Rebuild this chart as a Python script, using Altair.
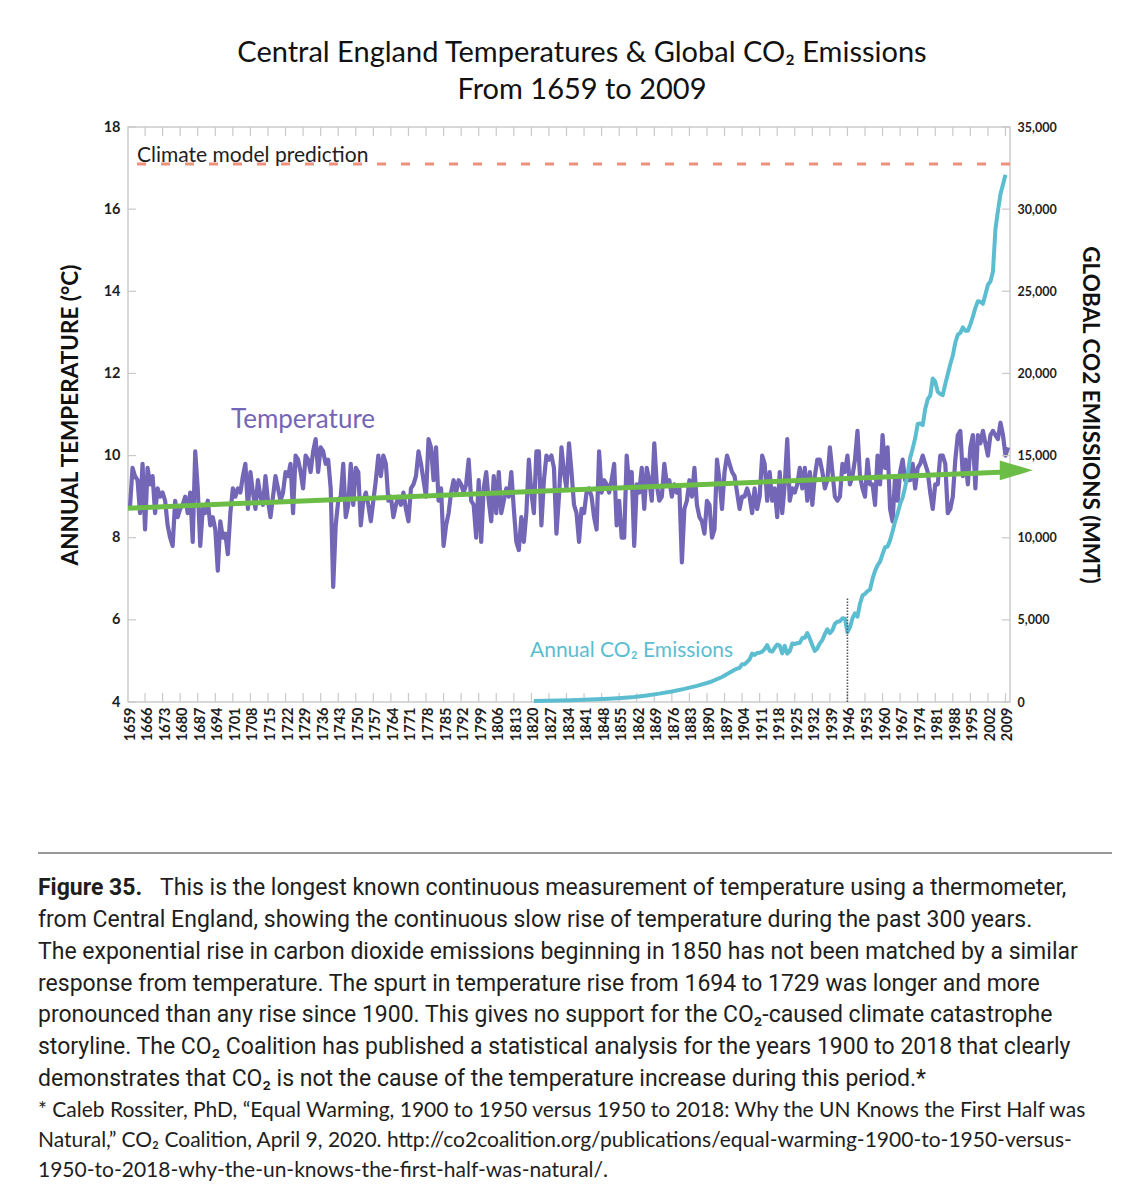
import altair as alt
import pandas as pd

# ---------------- data ----------------
temp_years = list(range(1659, 2010))
temp_values = [
    8.75, 9.7, 9.5, 9.4, 8.6, 9.8, 8.2, 9.7, 9.3, 9.5,
    8.6, 9.2, 9.0, 9.1, 8.9, 8.3, 8.0, 7.8, 8.9, 8.5,
    8.7, 8.8, 9.0, 8.6, 9.1, 7.9, 10.1, 9.2, 7.8, 8.7,
    8.6, 8.9, 8.3, 8.5, 8.2, 7.2, 8.4, 8.0, 8.1, 7.6,
    8.6, 9.2, 9.0, 9.2, 9.1, 9.5, 9.8, 8.7, 9.6, 9.1,
    8.7, 9.4, 9.0, 8.8, 9.5, 8.9, 8.5, 9.0, 9.5, 9.2,
    8.9, 9.1, 9.6, 9.5, 9.8, 8.6, 10.0, 9.9, 9.6, 9.2,
    10.0, 9.9, 9.6, 10.1, 10.4, 9.6, 10.2, 10.1, 9.8, 9.9,
    9.2, 6.8, 8.3, 8.9, 9.0, 9.8, 8.5, 8.8, 9.8, 8.8,
    9.7, 9.6, 8.3, 8.9, 9.1, 8.8, 8.4, 8.9, 9.4, 10.0,
    9.5, 10.0, 9.8, 8.9, 9.0, 8.5, 8.8, 9.0, 8.8, 9.1,
    8.7, 8.4, 9.2, 9.3, 9.5, 10.1, 9.8, 9.4, 9.0, 10.4,
    10.2, 9.4, 10.2, 8.9, 9.2, 7.8, 8.3, 8.6, 9.1, 9.4,
    9.1, 9.4, 9.3, 9.1, 9.3, 9.9, 8.9, 8.8, 8.0, 9.4,
    7.9, 9.2, 9.6, 8.9, 8.4, 9.5, 8.6, 9.6, 8.6, 8.9,
    9.2, 9.0, 9.6, 8.7, 7.9, 7.7, 8.5, 7.9, 8.6, 9.9,
    9.1, 8.6, 10.1, 10.1, 8.3, 9.4, 10.0, 9.9, 10.0, 9.7,
    8.1, 9.0, 10.2, 9.6, 9.2, 10.3, 9.6, 8.8, 8.6, 7.9,
    8.7, 8.6, 9.1, 9.2, 9.0, 8.5, 8.2, 10.1, 9.1, 9.4,
    9.3, 9.1, 9.4, 9.8, 8.3, 8.9, 8.0, 8.0, 10.0, 9.3,
    9.6, 7.8, 9.3, 9.1, 9.7, 8.7, 9.7, 9.4, 8.9, 10.3,
    9.3, 8.9, 9.0, 9.8, 9.3, 9.4, 9.0, 9.3, 9.1, 9.2,
    7.4, 8.7, 8.9, 9.4, 9.0, 9.7, 8.8, 8.5, 8.4, 8.1,
    8.9, 8.8, 8.0, 8.2, 9.9, 9.4, 8.7, 9.6, 10.0, 9.8,
    9.6, 9.5, 9.1, 8.7, 9.0, 9.0, 9.2, 9.0, 8.6, 9.2,
    8.7, 9.0, 10.0, 9.8, 8.9, 9.6, 8.9, 9.2, 8.5, 9.6,
    8.6, 9.3, 10.4, 8.9, 9.2, 9.1, 9.3, 9.7, 9.2, 9.7,
    8.9, 9.6, 8.8, 9.5, 9.9, 9.9, 9.6, 9.2, 9.4, 10.2,
    9.6, 9.0, 8.9, 9.0, 9.8, 9.6, 10.0, 9.3, 9.5, 9.9,
    10.6, 9.5, 9.2, 9.0, 9.9, 9.3, 9.3, 8.8, 10.0, 9.3,
    10.5, 9.7, 10.2, 8.7, 8.4, 9.5, 8.9, 9.6, 9.9, 9.4,
    9.4, 9.4, 9.8, 9.2, 9.7, 9.8, 10.0, 9.8, 9.6, 9.1,
    8.7, 9.3, 9.3, 10.0, 10.0, 9.8, 8.6, 8.7, 9.0, 9.9,
    10.5, 10.6, 9.5, 9.9, 9.3, 10.2, 10.5, 9.2, 10.5, 10.3,
    10.6, 10.3, 10.0, 10.5, 10.6, 10.5, 10.4, 10.8, 10.5, 10.0,
    10.2,
]

co2_years = [1820, 1825, 1830, 1835, 1840, 1845, 1850, 1855, 1860, 1865,
             1870, 1875, 1880, 1885, 1890, 1895] + list(range(1900, 2009))
co2_values = [
    60, 70, 90, 110, 130, 160, 200, 250, 300, 400,
    510, 640, 800, 980, 1200, 1520,
    1960, 2030, 2080, 2300, 2300, 2440, 2600, 2950, 2860, 2980,
    3000, 3070, 3220, 3460, 3120, 3070, 3300, 3500, 3430, 2960,
    3420, 2940, 3100, 3560, 3530, 3580, 3600, 3890, 3910, 4200,
    3860, 3450, 3110, 3270, 3570, 3770, 4140, 4430, 4190, 4370,
    4760, 4890, 4920, 5100, 5070, 4250, 4540, 5100, 5390, 5200,
    5980, 6480, 6580, 6750, 6840, 7490, 7980, 8320, 8540, 9000,
    9420, 9460, 9850, 10390, 10980, 11480, 12060, 12440, 13080, 13860,
    14860, 15430, 16050, 16920, 16950, 16850, 17840, 18430, 18650, 19690,
    19490, 18890, 18750, 18680, 19360, 19950, 20560, 21090, 21870, 22360,
    22470, 22800, 22600, 22600, 22980, 23460, 23990, 24390, 24360, 24240,
    24810, 25400, 25600, 26200, 28800, 29900, 30900, 31500, 32100,
]

trend_years = [1658.2, 2008.0]
trend_values = [8.72, 9.60]
arrow_year = [2012.3]
arrow_value = [9.64]

prediction_value = [17.1]
marker_year = [1945]
marker_top = [6330]

x_label_years = list(range(1659, 2010, 7))
x_tick_years = list(range(1665, 2009, 7))
temp_ticks = [4, 6, 8, 10, 12, 14, 16, 18]
co2_ticks = [0, 5000, 10000, 15000, 20000, 25000, 30000, 35000]

title_lines = ["Central England Temperatures & Global CO\u2082 Emissions", "From 1659 to 2009"]
caption_first_bold = "Figure 35."
caption_first_rest = "This is the longest known continuous measurement of temperature using a thermometer,"
caption_lines = [
    "from Central England, showing the continuous slow rise of temperature during the past 300 years.",
    "The exponential rise in carbon dioxide emissions beginning in 1850 has not been matched by a similar",
    "response from temperature. The spurt in temperature rise from 1694 to 1729 was longer and more",
    "pronounced than any rise since 1900. This gives no support for the CO\u2082-caused climate catastrophe",
    "storyline. The CO\u2082 Coalition has published a statistical analysis for the years 1900 to 2018 that clearly",
    "demonstrates that CO\u2082 is not the cause of the temperature increase during this period.*",
]
footnote_lines = [
    "* Caleb Rossiter, PhD, \u201cEqual Warming, 1900 to 1950 versus 1950 to 2018: Why the UN Knows the First Half was",
    "Natural,\u201d CO\u2082 Coalition, April 9, 2020. http://co2coalition.org/publications/equal-warming-1900-to-1950-versus-",
    "1950-to-2018-why-the-un-knows-the-first-half-was-natural/.",
]

# ---------------- styling ----------------
W, H = 882, 575
PURPLE = "#7466b6"
CYAN = "#5cbdd0"
GREEN = "#6cbd45"
SALMON = "#ee917c"
TICK = "#c9c9c9"
DARK = "#1e1e1e"
FONT = "Lato"
CAP_FONT = "Roboto"

xscale = alt.Scale(domain=[1658.2, 2009.8], nice=False, zero=False)
tscale = alt.Scale(domain=[4, 18], nice=False, zero=False)
cscale = alt.Scale(domain=[0, 35000], nice=False, zero=False)

temp_df = pd.DataFrame({"year": temp_years, "temp": temp_values})
co2_df = pd.DataFrame({"year": co2_years, "co2": co2_values})

x_axis = alt.Axis(values=x_label_years, format="d", labelAngle=270, ticks=False, domain=False,
                  grid=False, labelFontSize=14.5, labelFont=FONT, labelFontWeight="bold",
                  labelColor=DARK, labelPadding=5, title=None, labelFlush=False,
                  labelOverlap=False)
t_axis = alt.Axis(orient="left", values=temp_ticks, format="d", ticks=False, domain=False,
                  grid=False, labelFontSize=14.5, labelFont=FONT, labelFontWeight="bold",
                  labelColor=DARK, labelPadding=8, labelFlush=False,
                  title="ANNUAL TEMPERATURE (\u00b0C)", titleFont=FONT, titleFontSize=22.5,
                  titleFontWeight="bold", titleColor="#111", titlePadding=21)
c_axis = alt.Axis(orient="right", values=co2_ticks, format=",d", ticks=False, domain=False,
                  grid=False, labelFontSize=12.5, labelFont=FONT, labelFontWeight="bold",
                  labelColor=DARK, labelPadding=7, labelFlush=False,
                  title="GLOBAL CO2 EMISSIONS (MMT)", titleFont=FONT, titleFontSize=22.5,
                  titleFontWeight="bold", titleColor="#111", titleAngle=90, titlePadding=21)

X = lambda f: alt.X(f, scale=xscale, axis=x_axis)
YT = lambda f: alt.Y(f, scale=tscale, axis=t_axis)
YC = lambda f: alt.Y(f, scale=cscale, axis=c_axis)

# ---- temperature group ----
temp_line = alt.Chart(temp_df).mark_line(color=PURPLE, strokeWidth=4.2, strokeJoin="round").encode(
    x=X("year:Q"), y=YT("temp:Q"))

pred_rule = alt.Chart(pd.DataFrame({"pred": prediction_value})).mark_rule(
    color=SALMON, strokeWidth=3, strokeDash=[9, 15]).encode(y=YT("pred:Q"))

lt_ticks = alt.Chart(pd.DataFrame({"v": temp_ticks})).mark_rule(color=TICK, strokeWidth=1.2).encode(
    y=YT("v:Q"), x=alt.value(0), x2=alt.value(8))

x_ticks_df = pd.DataFrame({"t": x_tick_years})
top_ticks = alt.Chart(x_ticks_df).mark_rule(color=TICK, strokeWidth=1.2).encode(
    x=X("t:Q"), y=alt.value(0), y2=alt.value(9))
bottom_ticks = alt.Chart(x_ticks_df).mark_rule(color=TICK, strokeWidth=1.2).encode(
    x=X("t:Q"), y=alt.value(H - 9), y2=alt.value(H))

temp_group = alt.layer(temp_line, top_ticks, bottom_ticks, lt_ticks, pred_rule)

# ---- CO2 group ----
co2_line = alt.Chart(co2_df).mark_line(color=CYAN, strokeWidth=4, strokeJoin="round").encode(
    x=X("year:Q"), y=YC("co2:Q"))
rc_ticks = alt.Chart(pd.DataFrame({"v": co2_ticks})).mark_rule(color=TICK, strokeWidth=1.2).encode(
    y=YC("v:Q"), x=alt.value(W - 8), x2=alt.value(W))
marker = alt.Chart(pd.DataFrame({"year": marker_year, "lo": [0], "hi": marker_top})).mark_rule(
    color="#555555", strokeWidth=1.6, strokeDash=[1.5, 1.5]).encode(
    x=X("year:Q"), y=YC("lo:Q"), y2="hi:Q")
co2_group = alt.layer(co2_line, rc_ticks, marker)

# ---- trend group (same temperature scale, no axis of its own) ----
ttrend = alt.Scale(domain=[4, 18], nice=False, zero=False)
trend_line = alt.Chart(pd.DataFrame({"year": trend_years, "v": trend_values})).mark_line(
    color=GREEN, strokeWidth=5).encode(
    x=X("year:Q"), y=alt.Y("v:Q", scale=ttrend, axis=None))
trend_arrow = alt.Chart(pd.DataFrame({"year": arrow_year, "v": arrow_value})).mark_point(
    shape="M1,0L-1,-0.6L-1,0.6Z", size=1089, filled=True, color=GREEN, opacity=1).encode(
    x=X("year:Q"), y=alt.Y("v:Q", scale=ttrend, axis=None))
trend_group = alt.layer(trend_line, trend_arrow)

# ---- text group ----
one = pd.DataFrame({"k": [0]})
def txt(text, x, y, size, color=DARK, font=FONT, weight="normal", align="left", lh=None):
    kw = dict(text=text, font=font, fontSize=size, color=color, fontWeight=weight,
              align=align, baseline="alphabetic")
    if lh is not None:
        kw["lineHeight"] = lh
    return alt.Chart(one).mark_text(**kw).encode(x=alt.value(x), y=alt.value(y))

texts = [
    txt(title_lines[0], 454, -65, 29, color="#111", align="center"),
    txt(title_lines[1], 454, -28, 29, color="#111", align="center"),
    txt("Climate model prediction", 9, 35, 21),
    txt("Temperature", 103, 301, 26, color=PURPLE),
    txt("Annual CO\u2082 Emissions", 402, 530, 21, color=CYAN),
    txt(caption_first_bold, -90, 768, 23, font=CAP_FONT, weight="bold"),
    txt(caption_first_rest, 32, 768, 23, font=CAP_FONT),
    txt(caption_lines, -90, 800, 23, font=CAP_FONT, lh=31.8),
    txt(footnote_lines, -90, 990, 21, lh=30),
]
sep = alt.Chart(one).mark_rule(color="#333333", strokeWidth=1).encode(
    x=alt.value(-90), x2=alt.value(984), y=alt.value(726))
text_group = alt.layer(sep, *texts)

chart = alt.layer(temp_group, co2_group, trend_group, text_group).resolve_scale(
    y="independent"
).properties(
    width=W, height=H,
    padding={"left": 120, "top": 119, "right": 121, "bottom": 490},
    autosize=alt.AutoSizeParams(type="none"),
).configure_view(stroke="#cccccc", strokeWidth=1.5)

chart.save("out.html", embed_options={"renderer": "svg", "actions": False})
